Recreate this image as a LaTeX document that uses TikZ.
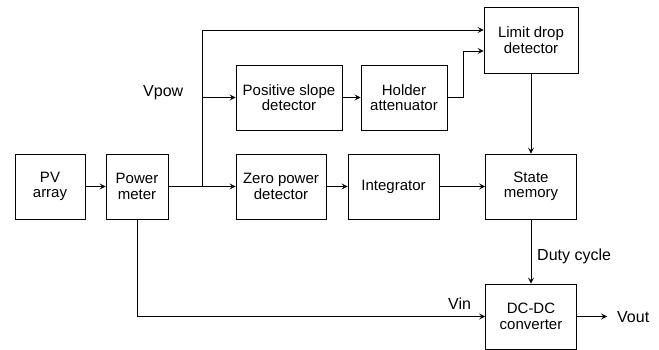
\documentclass[tikz,border=0pt]{standalone}
\usepackage{fontspec}
\setmainfont{Liberation Sans}
\usetikzlibrary{arrows.meta}
\begin{document}
\begin{tikzpicture}[x=1pt,y=-1pt,
  blk/.style={draw, line width=0.9pt, align=center, inner sep=0pt,
    font=\fontsize{15}{15.5}\selectfont, minimum height=65pt},
  conn/.style={line width=0.9pt, -{Stealth[length=6pt,width=6pt,inset=2.5pt]}},
  wire/.style={line width=0.9pt},
  lbl/.style={font=\fontsize{16}{18}\selectfont, inner sep=0pt}]
\useasboundingbox (0,0) rectangle (659,350);
\node[blk, minimum width=70pt] (pv) at (50,186.5) {PV\\array};
\node[blk, minimum width=62pt] (pm) at (137,186.5) {Power\\meter};
\node[blk, minimum width=90pt] (zp) at (281,186.5) {Zero power\\detector};
\node[blk, minimum width=91pt] (int) at (393.5,186.5) {Integrator};
\node[blk, minimum width=91pt] (sm) at (531,186.5) {State\\memory};
\node[blk, minimum width=106pt] (ps) at (289,97.5) {Positive slope\\detector};
\node[blk, minimum width=86pt] (ha) at (404,97.5) {Holder\\attenuator};
\node[blk, minimum width=94pt, minimum height=66pt] (ld) at (531,40) {Limit drop\\detector};
\node[blk, minimum width=91pt] (dc) at (531,316.5) {DC-DC\\converter};
\coordinate (j) at (202,186.5);
\coordinate (vo) at (607,316.5);
\draw[conn] (pv) -- (pm);
\draw[conn] (pm) -- (zp);
\draw[conn] (zp) -- (int);
\draw[conn] (int) -- (sm);
\draw[conn] (ps) -- (ha);
\draw[conn] (j) |- ([yshift=10pt]ld.west);
\draw[conn] (j |- ps.west) -- (ps.west);
\draw[conn] (ha.east) -- ++(16,0) |- ([yshift=-11pt]ld.west);
\draw[conn] (ld) -- (sm);
\draw[conn] (sm) -- (dc);
\draw[conn] (pm.south) |- (dc.west);
\draw[conn] (dc.east) -- (vo);
\node[lbl, anchor=base west] (vpow) at (143,97) {Vpow};
\node[lbl, anchor=base west] (vin) at (448,309) {Vin};
\node[lbl, anchor=base west] (duty) at (537,260) {Duty cycle};
\node[lbl, anchor=base west] (vout) at (617,322) {Vout};
\end{tikzpicture}
\end{document}
